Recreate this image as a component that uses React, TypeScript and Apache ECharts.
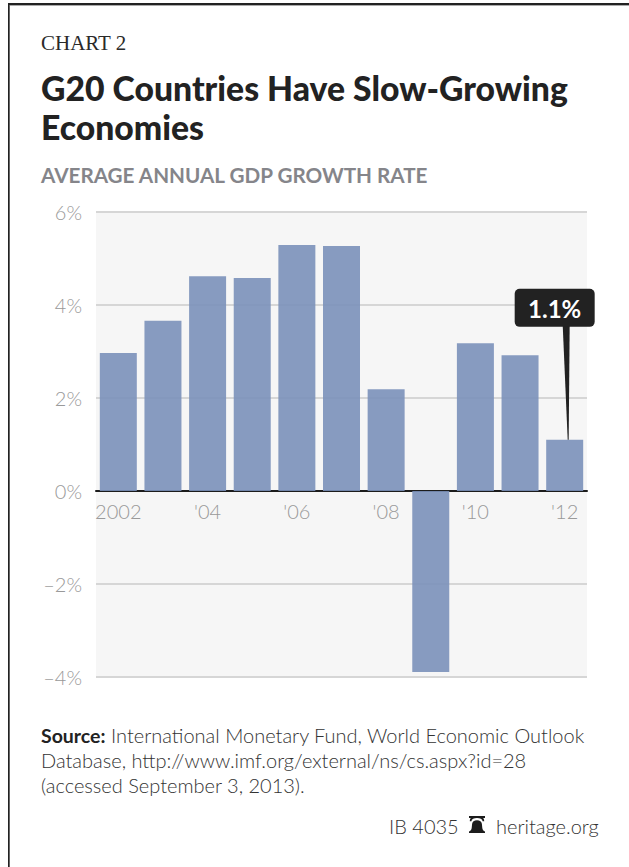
import React, { useEffect, useRef } from "react";
import * as echarts from "echarts";

const years = ["2002", "'03", "'04", "'05", "'06", "'07", "'08", "'09", "'10", "'11", "'12"];
const growth = [2.97, 3.66, 4.62, 4.58, 5.29, 5.27, 2.19, -3.89, 3.18, 2.92, 1.1];
const calloutYear = "'12";
const calloutValue = 1.1;
const sourceLines = [
  "International Monetary Fund, World Economic Outlook",
  "Database, http://www.imf.org/external/ns/cs.aspx?id=28",
  "(accessed September 3, 2013).",
];

const SANS = "Lato, 'Noto Sans', sans-serif";

// Liberty-bell mark used next to the site name: a rail, an open arch and the bell body.
echarts.graphic.registerShape(
  "bell",
  echarts.graphic.extendPath(
    "M0 0 H16 V2 H14.2 C15 3 15.2 4.2 15.2 5.2 H13.6 C13.4 3.2 11 2 8 2 C5 2 2.6 3.2 2.4 5.2 H0.8 C0.8 4.2 1 3 1.8 2 H0 Z " +
      "M8 4.2 C10.8 4.2 12.8 5.8 12.9 8 L13.3 12 C13.5 13.6 14.6 15 16 15.6 V17 H0 V15.6 C1.4 15 2.5 13.6 2.7 12 L3.1 8 C3.2 5.8 5.2 4.2 8 4.2 Z",
    {}
  )
);

export default function App() {
  const ref = useRef<HTMLDivElement>(null);

  useEffect(() => {
    const chart = echarts.init(ref.current!, undefined, { renderer: "svg" });
    chart.setOption({
      animation: false,
      backgroundColor: "#ffffff",
      grid: {
        left: 96,
        right: 42,
        top: 212,
        bottom: 190,
        show: true,
        backgroundColor: "#f6f6f6",
        borderWidth: 0,
      },
      xAxis: {
        type: "category",
        data: years,
        axisLine: { onZero: true, lineStyle: { color: "#1c1c1c", width: 2 } },
        axisTick: { show: false },
        axisLabel: {
          interval: 1,
          color: "#999999",
          fontFamily: SANS,
          fontWeight: 300,
          fontSize: 20,
          // Year labels sit just under the zero line rather than under the plot.
          margin: -176,
        },
      },
      yAxis: {
        type: "value",
        min: -4,
        max: 6,
        interval: 2,
        axisLine: { show: false },
        axisTick: { show: false },
        splitLine: { lineStyle: { color: "#d6d6d6", width: 2 } },
        axisLabel: {
          color: "#999999",
          fontFamily: SANS,
          fontWeight: 300,
          fontSize: 20,
          margin: 14,
          formatter: (v: number) => (v < 0 ? `\u2013${Math.abs(v)}%` : `${v}%`),
        },
      },
      series: [
        {
          type: "bar",
          data: growth,
          barWidth: 37,
          z: 2,
          itemStyle: { color: "#7b91ba", opacity: 0.9 },
        },
        {
          // Callout whose stem ends on the top of the final bar.
          type: "custom",
          z: 5,
          silent: true,
          data: [[calloutYear, calloutValue]],
          encode: { x: 0, y: 1 },
          renderItem: (_p: unknown, api: any) => {
            const [cx, cy] = api.coord([api.value(0), api.value(1)]);
            const boxX = cx - 50;
            const boxY = cy - 151;
            return {
              type: "group",
              children: [
                {
                  type: "polygon",
                  shape: {
                    points: [
                      [boxX + 48, boxY + 36],
                      [boxX + 55, boxY + 36],
                      [cx + 4, cy],
                      [cx + 3, cy],
                    ],
                  },
                  style: { fill: "#222222" },
                },
                {
                  type: "rect",
                  shape: { x: boxX, y: boxY, width: 80, height: 38, r: 5 },
                  style: { fill: "#222222" },
                },
                {
                  type: "text",
                  x: boxX + 40,
                  y: boxY + 20,
                  style: {
                    text: `${calloutValue}%`,
                    fill: "#ffffff",
                    font: `700 24px ${SANS}`,
                    align: "center",
                    verticalAlign: "middle",
                  },
                },
              ],
            };
          },
        },
      ],
      graphic: [
        // Frame: dark rule with a soft grey edge, open on the right and at the bottom.
        { type: "rect", shape: { x: 9, y: 5, width: 620, height: 1 }, style: { fill: "#aaaaaa" } },
        { type: "rect", shape: { x: 9, y: 5, width: 1, height: 862 }, style: { fill: "#aaaaaa" } },
        { type: "rect", shape: { x: 8, y: 3, width: 621, height: 2 }, style: { fill: "#222222" } },
        { type: "rect", shape: { x: 8, y: 3, width: 1.5, height: 864 }, style: { fill: "#222222" } },
        {
          type: "text",
          x: 41,
          y: 33,
          scaleX: 1.05,
          style: { text: "CHART 2", fill: "#2a2a2a", font: "20px 'Liberation Serif', serif" },
        },
        {
          type: "text",
          x: 41,
          y: 70,
          scaleX: 0.964,
          style: { text: "G20 Countries Have Slow-Growing", fill: "#222222", font: `900 35px ${SANS}` },
        },
        {
          type: "text",
          x: 41,
          y: 109,
          scaleX: 0.964,
          style: { text: "Economies", fill: "#222222", font: `900 35px ${SANS}` },
        },
        {
          type: "text",
          x: 41,
          y: 164,
          scaleX: 0.985,
          style: { text: "AVERAGE ANNUAL GDP GROWTH RATE", fill: "#85858a", font: `700 21px ${SANS}` },
        },
        {
          type: "text",
          x: 41,
          y: 725,
          style: { text: "Source:", fill: "#222222", font: `700 19.5px ${SANS}` },
        },
        {
          type: "text",
          x: 111,
          y: 725,
          style: { text: sourceLines[0], fill: "#333333", font: `300 20px ${SANS}` },
        },
        {
          type: "text",
          x: 41,
          y: 750,
          style: { text: sourceLines[1], fill: "#333333", font: `300 20px ${SANS}` },
        },
        {
          type: "text",
          x: 41,
          y: 775,
          style: { text: sourceLines[2], fill: "#333333", font: `300 20px ${SANS}` },
        },
        {
          type: "text",
          x: 389,
          y: 816,
          style: { text: "IB 4035", fill: "#333333", font: `300 20px ${SANS}` },
        },
        {
          type: "bell",
          x: 469,
          y: 816,
          style: { fill: "#1c1c1c" },
        },
        {
          type: "text",
          x: 496,
          y: 816,
          style: { text: "heritage.org", fill: "#333333", font: `300 20px ${SANS}` },
        },
      ],
    });
    return () => chart.dispose();
  }, []);

  return (
    <div
      ref={ref}
      style={{ position: "fixed", left: 0, top: 0, width: 629, height: 867 }}
    />
  );
}
